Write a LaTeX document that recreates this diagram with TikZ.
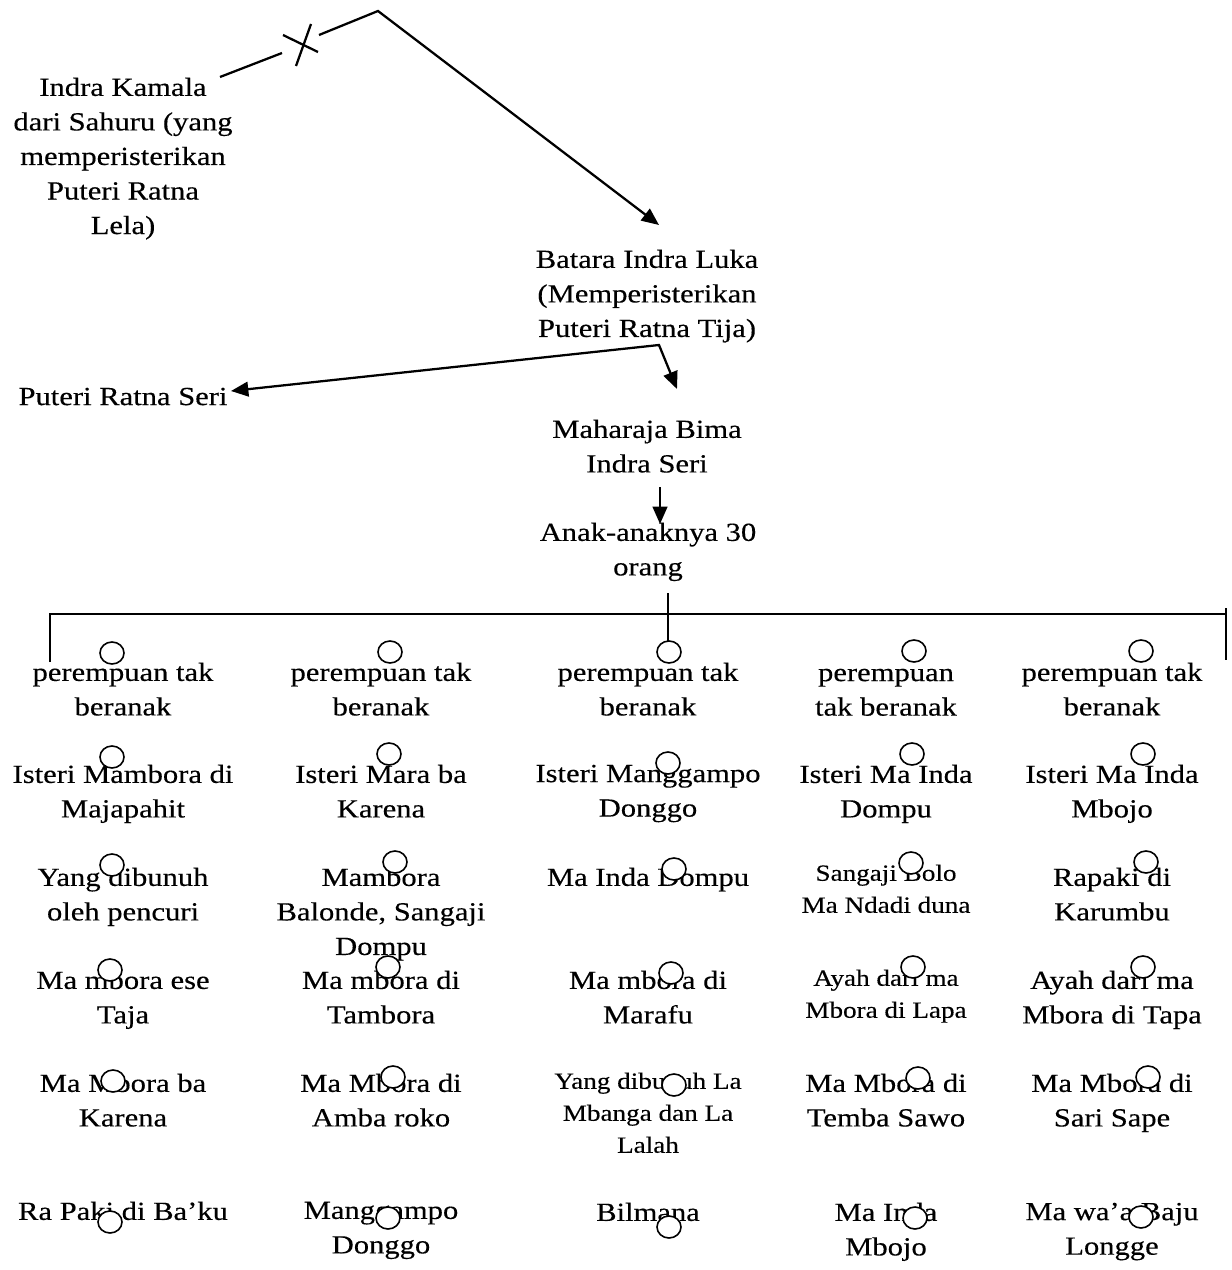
\documentclass[tikz,border=0pt]{standalone}
\usepackage{fontspec}
\setmainfont{Liberation Serif}[FakeStretch=1.17,FakeBold=0.3]
\usetikzlibrary{arrows.meta,shapes.geometric}

\begin{document}
\begin{tikzpicture}[x=0.75pt,y=-0.75pt,
  txtbase/.style={anchor=north,inner sep=0pt,align=center},
  txt/.style={txtbase,font=\fontsize{19.6}{25.9}\selectfont},
  smalltxt/.style={txtbase,font=\fontsize{17.4}{24}\selectfont},
  ring/.style={ellipse,draw,fill=white,line width=1.2pt,inner sep=0pt,
    minimum width=24*0.75pt,minimum height=22*0.75pt},
  link/.style={line width=1.7pt},
  arr/.style={link,-{Triangle[length=13pt,width=11pt]}},
  arrs/.style={link,{Triangle[length=13pt,width=11pt]}-{Triangle[length=13pt,width=11pt]}}]

\useasboundingbox (0,0) rectangle (1231,1270);

% ---- upper part of the line ----
\node[txt] (ik) at (123,77.5) {Indra Kamala\\dari Sahuru (yang\\memperisterikan\\Puteri Ratna\\Lela)};
\node[txt] (bil) at (647,249.5) {Batara Indra Luka\\(Memperisterikan\\Puteri Ratna Tija)};
\node[txt] (prs) at (123,387.5) {Puteri Ratna Seri};
\node[txt] (mbis) at (647,419.5) {Maharaja Bima\\Indra Seri};
\node[txt] (anak) at (648,522.5) {Anak-anaknya 30\\orang};

% broken line with a cross, then down to Batara Indra Luka
\coordinate (ikA) at (220,77);
\coordinate (ikB) at (282,53);
\coordinate (ikC) at (319,35);
\coordinate (peak) at (378,11);
\coordinate (bilTop) at (659,225);
\coordinate (x1a) at (283,35);
\coordinate (x1b) at (318,52);
\coordinate (x2a) at (311,24);
\coordinate (x2b) at (296,66);
\draw[link] (ikA) -- (ikB);
\draw[link] (x1a) -- (x1b);
\draw[link] (x2a) -- (x2b);
\draw[arr] (ikC) -- (peak) -- (bilTop);

% Batara Indra Luka to his two children
\coordinate (bilFork) at (659,345);
\coordinate (prsEnd) at (231,391);
\coordinate (mbisTop) at (677,389);
\draw[arrs] (prsEnd) -- (bilFork) -- (mbisTop);

% Maharaja Bima to his children
\coordinate (mbisLow) at (660,487);
\coordinate (anakTop) at (660,524);
\draw[arr] (mbisLow) -- (anakTop);

% bracket over the five columns
\coordinate (anakLow) at (668,593);
\coordinate (midDrop) at (668,642);
\coordinate (leftDrop) at (50,662);
\coordinate (leftTop) at (50,614);
\coordinate (rightTop) at (1226,614);
\coordinate (rightStub) at (1226,608);
\coordinate (rightDrop) at (1226,660);
\draw[link] (anakLow) -- (midDrop);
\draw[link] (leftDrop) -- (leftTop) -- (rightTop);
\draw[link] (rightStub) -- (rightDrop);

% ---- column 1 ----
\node[txt] (a1) at (123,662.5) {perempuan tak\\beranak};
\node[txt] (a2) at (123,764.5) {Isteri Mambora di\\Majapahit};
\node[txt] (a3) at (123,867.5) {Yang dibunuh\\oleh pencuri};
\node[txt] (a4) at (123,970.5) {Ma mbora ese\\Taja};
\node[txt] (a5) at (123,1073.5) {Ma Mbora ba\\Karena};
\node[txt] (a6) at (123,1201.5) {Ra Paki di Ba’ku};

% ---- column 2 ----
\node[txt] (b1) at (381,662.5) {perempuan tak\\beranak};
\node[txt] (b2) at (381,764.5) {Isteri Mara ba\\Karena};
\node[txt] (b3) at (381,867.5) {Mambora\\Balonde, Sangaji\\Dompu};
\node[txt] (b4) at (381,970.5) {Ma mbora di\\Tambora};
\node[txt] (b5) at (381,1073.5) {Ma Mbora di\\Amba roko};
\node[txt] (b6) at (381,1201.5) {Manggampo\\Donggo};

% ---- column 3 ----
\node[txt] (c1) at (648,662.5) {perempuan tak\\beranak};
\node[txt] (c2) at (648,764.5) {Isteri Manggampo\\Donggo};
\node[txt] (c3) at (648,867.5) {Ma Inda Dompu};
\node[txt] (c4) at (648,970.5) {Ma mbora di\\Marafu};
\node[smalltxt] (c5) at (648,1072.4) {Yang dibunuh La\\Mbanga dan La\\Lalah};
\node[txt] (c6) at (648,1202.5) {Bilmana};

% ---- column 4 ----
% first line has no ascenders, so its box top sits lower
\node[txt] (d1) at (886,668.5) {perempuan\\tak beranak};
\node[txt] (d2) at (886,764.5) {Isteri Ma Inda\\Dompu};
\node[smalltxt] (d3) at (886,864.4) {Sangaji Bolo\\Ma Ndadi duna};
\node[smalltxt] (d4) at (886,969.4) {Ayah dari ma\\Mbora di Lapa};
\node[txt] (d5) at (886,1073.5) {Ma Mbora di\\Temba Sawo};
\node[txt] (d6) at (886,1202.5) {Ma Inda\\Mbojo};

% ---- column 5 ----
\node[txt] (e1) at (1112,662.5) {perempuan tak\\beranak};
\node[txt] (e2) at (1112,764.5) {Isteri Ma Inda\\Mbojo};
\node[txt] (e3) at (1112,867.5) {Rapaki di\\Karumbu};
\node[txt] (e4) at (1112,970.5) {Ayah dari ma\\Mbora di Tapa};
\node[txt] (e5) at (1112,1073.5) {Ma Mbora di\\Sari Sape};
\node[txt] (e6) at (1112,1202.5) {Ma wa’a Baju\\Longge};

% ---- small rings laid over the entries ----
\node[ring] (ra1) at (112,653) {};
\node[ring] (rb1) at (390,652) {};
\node[ring] (rc1) at (669,652) {};
\node[ring] (rd1) at (914,651) {};
\node[ring] (re1) at (1141,651) {};

\node[ring] (ra2) at (112,757) {};
\node[ring] (rb2) at (389,754) {};
\node[ring] (rc2) at (668,763) {};
\node[ring] (rd2) at (912,754) {};
\node[ring] (re2) at (1143,754) {};

\node[ring] (ra3) at (112,865) {};
\node[ring] (rb3) at (395,862) {};
\node[ring] (rc3) at (674,869) {};
\node[ring] (rd3) at (911,863) {};
\node[ring] (re3) at (1146,862) {};

\node[ring] (ra4) at (110,970) {};
\node[ring] (rb4) at (388,967) {};
\node[ring] (rc4) at (671,973) {};
\node[ring] (rd4) at (913,967) {};
\node[ring] (re4) at (1143,967) {};

\node[ring] (ra5) at (113,1081) {};
\node[ring] (rb5) at (393,1077) {};
\node[ring] (rc5) at (674,1085) {};
\node[ring] (rd5) at (918,1078) {};
\node[ring] (re5) at (1148,1077) {};

\node[ring] (ra6) at (110,1222) {};
\node[ring] (rb6) at (388,1218) {};
\node[ring] (rc6) at (669,1227) {};
\node[ring] (rd6) at (915,1218) {};
\node[ring] (re6) at (1141,1217) {};
\end{tikzpicture}
\end{document}
